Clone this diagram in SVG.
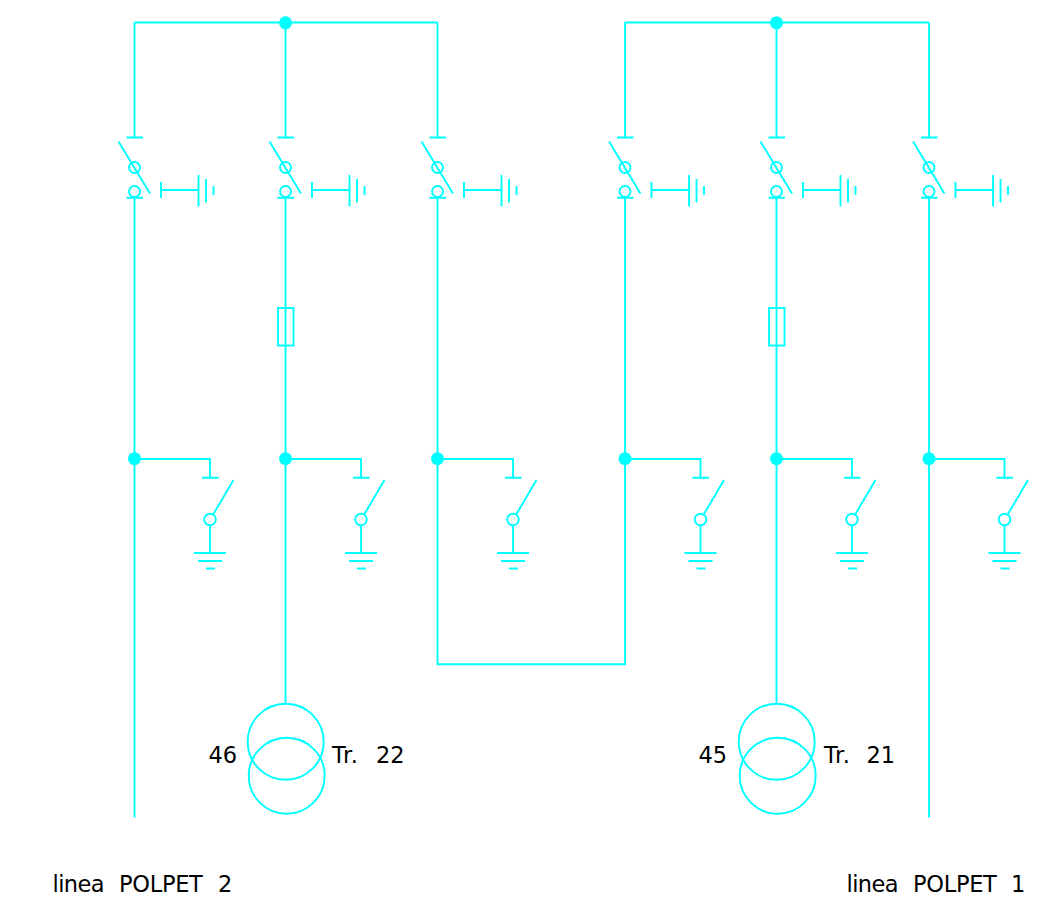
<svg xmlns="http://www.w3.org/2000/svg" width="1061" height="915" viewBox="0 0 1061 915">
<style>
.l{fill:none;stroke:#00ffff;stroke-width:1.9}
.j{fill:#00ffff;stroke:none}
text{font-family:"DejaVu Sans",sans-serif;font-size:22.5px;fill:#000}
</style>
<defs>
<g id="disc" class="l">
<path d="M-8 137.5H8.5M0 137.5V22.5" />
<path d="M-16 141.5L15.5 193.5M-8 197.7H8.5"/>
<circle cx="0" cy="167.5" r="5.5"/>
<circle cx="0" cy="191.5" r="5.5"/>
<path d="M26.5 190H64M26.5 182V198M64 175V206.5M71.5 179V202.5M79 186V195"/>
</g>
<g id="earth" class="l">
<path d="M0 459H75.5V477.7M67.5 477.7H84M99 480L79 514"/>
<circle cx="75.5" cy="519.5" r="5.8"/>
<path d="M75.5 525.3V553M59.5 553H91.5M63.5 561H87.5M71.5 568.5H80.5"/>
</g>
</defs>
<rect width="1061" height="915" fill="#fff"/>
<g id="connectors" class="l">
<path d="M134.5 22.5H437.5M625 22.5H929"/>
<path d="M134.5 197.7V817.5"/>
<path d="M285.5 197.7V704"/>
<path d="M437.5 197.7V664.3H625V197.7"/>
<path d="M776.5 197.7V704"/>
<path d="M929 197.7V817.5"/>
</g>
<g id="bus-node-left"><circle class="j" cx="285.5" cy="22.8" r="6.5"/></g>
<g id="bus-node-right"><circle class="j" cx="776.5" cy="22.8" r="6.5"/></g>
<g id="switch-1"><use href="#disc" x="134.5"/></g>
<g id="switch-2"><use href="#disc" x="285.5"/></g>
<g id="switch-3"><use href="#disc" x="437.5"/></g>
<g id="switch-4"><use href="#disc" x="625"/></g>
<g id="switch-5"><use href="#disc" x="776.5"/></g>
<g id="switch-6"><use href="#disc" x="929"/></g>
<g id="fuse-1"><rect class="l" x="278" y="308" width="15.5" height="37.5"/></g>
<g id="fuse-2"><rect class="l" x="769" y="308" width="15.5" height="37.5"/></g>
<g id="earth-1"><use href="#earth" x="134.5"/><circle class="j" cx="134.5" cy="458.7" r="6.5"/></g>
<g id="earth-2"><use href="#earth" x="285.5"/><circle class="j" cx="285.5" cy="458.7" r="6.5"/></g>
<g id="earth-3"><use href="#earth" x="437.5"/><circle class="j" cx="437.5" cy="458.7" r="6.5"/></g>
<g id="earth-4"><use href="#earth" x="625"/><circle class="j" cx="625" cy="458.7" r="6.5"/></g>
<g id="earth-5"><use href="#earth" x="776.5"/><circle class="j" cx="776.5" cy="458.7" r="6.5"/></g>
<g id="earth-6"><use href="#earth" x="929"/><circle class="j" cx="929" cy="458.7" r="6.5"/></g>
<g id="transformer-22">
<circle class="l" cx="285.7" cy="741.8" r="38"/>
<circle class="l" cx="286.7" cy="775.8" r="38"/>
<text x="208.5" y="763">46</text>
<text y="763"><tspan x="332" letter-spacing="0.6">Tr.</tspan> <tspan x="376">22</tspan></text>
</g>
<g id="transformer-21">
<circle class="l" cx="776.7" cy="741.8" r="38"/>
<circle class="l" cx="777.7" cy="775.8" r="38"/>
<text x="698.5" y="763">45</text>
<text y="763"><tspan x="824" letter-spacing="0.6">Tr.</tspan> <tspan x="866.5">21</tspan></text>
</g>
<g id="label-polpet-2"><text y="892"><tspan x="52.5" letter-spacing="-0.6">linea</tspan> <tspan x="119" letter-spacing="-0.3">POLPET</tspan> <tspan x="218">2</tspan></text></g>
<g id="label-polpet-1"><text y="892"><tspan x="846.5" letter-spacing="-0.6">linea</tspan> <tspan x="913" letter-spacing="-0.3">POLPET</tspan> <tspan x="1011">1</tspan></text></g>
</svg>
